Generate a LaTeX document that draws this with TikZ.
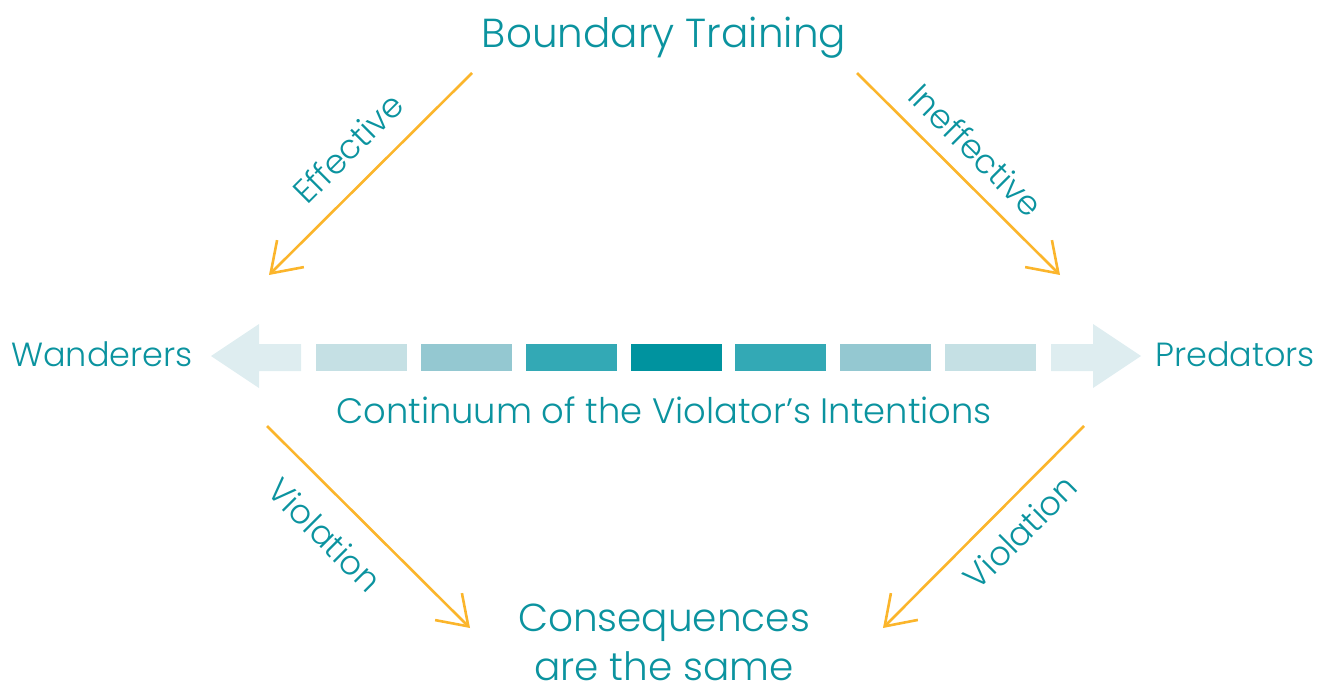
\documentclass[tikz,border=0pt]{standalone}
\usepackage{fontspec}
\IfFontExistsTF{Poppins Light}{\setmainfont{Poppins Light}}{\setmainfont{Poppins}}
\usetikzlibrary{arrows.meta}
\definecolor{teal}{HTML}{0B939F}
\definecolor{orng}{HTML}{FBB52B}
\definecolor{cA}{HTML}{DEEDF0}
\definecolor{cB}{HTML}{C5E0E4}
\definecolor{cC}{HTML}{94C8D1}
\definecolor{cD}{HTML}{33A9B5}
\definecolor{cE}{HTML}{00939F}
\begin{document}
\begin{tikzpicture}[x=1pt,y=-1pt,
  lbl/.style={text=teal,inner sep=0pt,font=\fontsize{33.5}{38}\selectfont},
  big/.style={text=teal,inner sep=0pt,font=\fontsize{40.5}{49}\selectfont,align=center},
  flow/.style={draw=orng,line width=2.6pt,-{Straight Barb[length=28pt,width=38pt,line width=2.6pt]}},
  bar/.style={inner sep=0pt,minimum width=91pt,minimum height=27pt}]
\useasboundingbox (0,0) rectangle (1330,685);
% texts
\node[big] (bt) at (664,38) {Boundary Training};
\node[lbl] (wa) at (102,354) {Wanderers};
\node[lbl] (pr) at (1235,354) {Predators};
\node[lbl,font=\fontsize{35.3}{40}\selectfont] (co) at (664,410) {Continuum of the Violator’s Intentions};
\node[big,font=\fontsize{39}{49}\selectfont] (cs) at (664,642) {Consequences\\are the same};
% continuum arrows
\fill[cA] (211,356) -- (259,324) -- (259,344) -- (301,344) -- (301,371) -- (259,371) -- (259,388) -- cycle;
\fill[cA] (1141,356) -- (1093,324) -- (1093,344) -- (1051,344) -- (1051,371) -- (1093,371) -- (1093,388) -- cycle;
\node[bar,fill=cB] (b1) at (361.5,357.5) {};
\node[bar,fill=cC] (b2) at (466.5,357.5) {};
\node[bar,fill=cD] (b3) at (571.5,357.5) {};
\node[bar,fill=cE] (b4) at (676.5,357.5) {};
\node[bar,fill=cD] (b5) at (780.5,357.5) {};
\node[bar,fill=cC] (b6) at (885.5,357.5) {};
\node[bar,fill=cB] (b7) at (990.5,357.5) {};
% flow arrows
\coordinate (a1s) at (472,73);  \coordinate (a1e) at (269,275);
\coordinate (a2s) at (857,73);  \coordinate (a2e) at (1060,275);
\coordinate (a3s) at (267,426); \coordinate (a3e) at (470,628);
\coordinate (a4s) at (1084,426);\coordinate (a4e) at (883,628);
\draw[flow] (a1s) -- (a1e);
\draw[flow] (a2s) -- (a2e);
\draw[flow] (a3s) -- (a3e);
\draw[flow] (a4s) -- (a4e);
\node[lbl,rotate=45] (l1) at (348,148) {Effective};
\node[lbl,rotate=-45] (l2) at (976,150) {Ineffective};
\node[lbl,rotate=-45] (l3) at (325,535) {Violation};
\node[lbl,rotate=45] (l4) at (1020,532) {Violation};
\end{tikzpicture}
\end{document}
